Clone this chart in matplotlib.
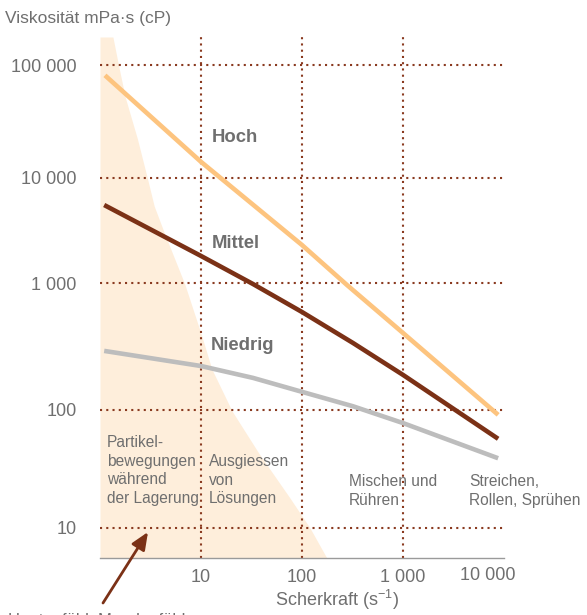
import numpy as np
import matplotlib
matplotlib.use("Agg")
import matplotlib.pyplot as plt
from matplotlib.transforms import ScaledTranslation

plt.rcParams['font.family'] = ['Liberation Sans', 'DejaVu Sans']
plt.rcParams['mathtext.fontset'] = 'custom'
plt.rcParams['mathtext.rm'] = 'Liberation Sans'

# Viscosity curves (mPa·s) over shear rate (1/s)
shear_hoch = [1.12, 10, 100, 279, 1000, 8750]
visc_hoch = [81000, 13900, 2300, 964, 404, 91]

shear_mittel = [1.10, 10, 32.7, 100, 320, 1000, 8750]
visc_mittel = [5530, 1810, 982, 591, 337, 189, 57]

shear_niedrig = [1.10, 10, 32.7, 100, 320, 1000, 8750]
visc_niedrig = [292, 222, 179, 139, 107, 77.5, 39]

# Boundary of the storage/settling zone
zone_shear = [1.342, 1.528, 1.784, 2.34, 2.94, 3.44, 4.34, 6.90, 10.1, 12.8,
              20.3, 37.5, 75.5, 120, 189]
zone_visc = [177000, 98800, 51300, 22400, 10000, 5400, 2990, 982, 390, 210,
             98, 42.8, 18.1, 10, 5.0]

y_ticks = [10, 100, 1000, 10000, 100000]
y_labels = ['10', '100', '1 000', '10 000', '100 000']
x_ticks = [10, 100, 1000, 10000]
x_labels = ['10', '100', '1 000', '10 000']
x_grid = [10, 100, 1000]

series_names = ['Hoch', 'Mittel', 'Niedrig']
zone_labels = ['Partikel-\nbewegungen\nwährend\nder Lagerung',
               'Ausgiessen\nvon\nLösungen',
               'Mischen und\nRühren',
               'Streichen,\nRollen, Sprühen']

# Hand-drawn decade spacing of the viscosity axis (log10 -> axis units)
dec_log = [-1, 1, 2, 3, 4, 5, 7]
dec_pos = [-206, 30, 148, 275, 380, 493, 719]


def fwd(v):
    v = np.clip(np.asarray(v, dtype=float), 1e-12, None)
    return np.interp(np.log10(v), dec_log, dec_pos)


def inv(u):
    return 10 ** np.interp(np.asarray(u, dtype=float), dec_pos, dec_log)


TXT = '#6f6f6f'
GRID = '#8a3a20'
C_HOCH = '#fdc47f'
C_MITTEL = '#7b3116'
C_NIEDRIG = '#bdbdbd'
ZONE = '#feeedb'

fig = plt.figure(figsize=(5.87, 6.15), dpi=100)
ax = fig.add_axes([100 / 587, 57 / 615, 404 / 587, 525 / 615])
ax.set_xscale('log')
ax.set_yscale('function', functions=(fwd, inv))
ax.set_xlim(1, 10000)
ax.set_ylim(inv(0), inv(525))

ax.fill_betweenx(zone_visc, 1, zone_shear, color=ZONE, lw=0, zorder=0)

dots = (0, (1, 2))
for v in y_ticks:
    ax.axhline(v, color=GRID, lw=1.5, ls=dots, zorder=1)
for v in x_grid:
    ax.axvline(v, color=GRID, lw=1.5, ls=dots, zorder=1)

ax.plot(shear_hoch, visc_hoch, color=C_HOCH, lw=3.3, solid_capstyle='butt', zorder=3)
ax.plot(shear_mittel, visc_mittel, color=C_MITTEL, lw=3.3, solid_capstyle='butt', zorder=3)
ax.plot(shear_niedrig, visc_niedrig, color=C_NIEDRIG, lw=3.3, solid_capstyle='butt', zorder=3)

for s in ['top', 'right', 'left']:
    ax.spines[s].set_visible(False)
ax.spines['bottom'].set_color('#9a9a9a')
ax.spines['bottom'].set_linewidth(1.0)
ax.patch.set_alpha(0)

ax.set_yticks(y_ticks, labels=y_labels)
ax.set_xticks(x_ticks, labels=x_labels)
ax.minorticks_off()
ax.tick_params(axis='y', length=0, pad=17, labelsize=13, labelcolor=TXT)
ax.tick_params(axis='x', length=0, pad=8, labelsize=13, labelcolor=TXT)
lab = ax.get_xticklabels()[-1]
lab.set_transform(lab.get_transform() + ScaledTranslation(-0.16, 0.02, fig.dpi_scale_trans))


def apos(x, y):
    return ((x - 100) / 404, (558 - y) / 525)


fig.text(5 / 587, 1 - 18 / 615, 'Viskosität mPa·s (cP)', fontsize=12.5, color=TXT,
         ha='left', va='center')
fig.text(337 / 587, 1 - 600 / 615, r'Scherkraft (s$^{\mathrm{-1}}$)', fontsize=13,
         color=TXT, ha='center', va='center')

for name, (x, y) in zip(series_names, [(212, 137), (212, 243), (211, 345)]):
    ax.text(*apos(x, y), name, transform=ax.transAxes, fontsize=13.3,
            fontweight='bold', color=TXT, ha='left', va='center', zorder=4)

for txt, (x, y) in zip(zone_labels, [(107, 435), (209, 454), (349, 474), (469, 474)]):
    ax.text(*apos(x, y), txt, transform=ax.transAxes, fontsize=11.2, color=TXT,
            ha='left', va='top', linespacing=1.3, zorder=4)

ax.annotate('', xy=apos(148, 532), xycoords='axes fraction',
            xytext=(103, 12), textcoords='figure pixels',
            arrowprops=dict(arrowstyle='-|>,head_length=0.7,head_width=0.3',
                            mutation_scale=15, color=C_MITTEL, lw=2.0,
                            shrinkA=0, shrinkB=0),
            annotation_clip=False)

fig.text(8 / 587, 1.5 / 615, 'Hautgefühl, Mundgefühl', fontsize=12, color=TXT,
         ha='left', va='top')

fig.savefig('out.png', dpi=100)
